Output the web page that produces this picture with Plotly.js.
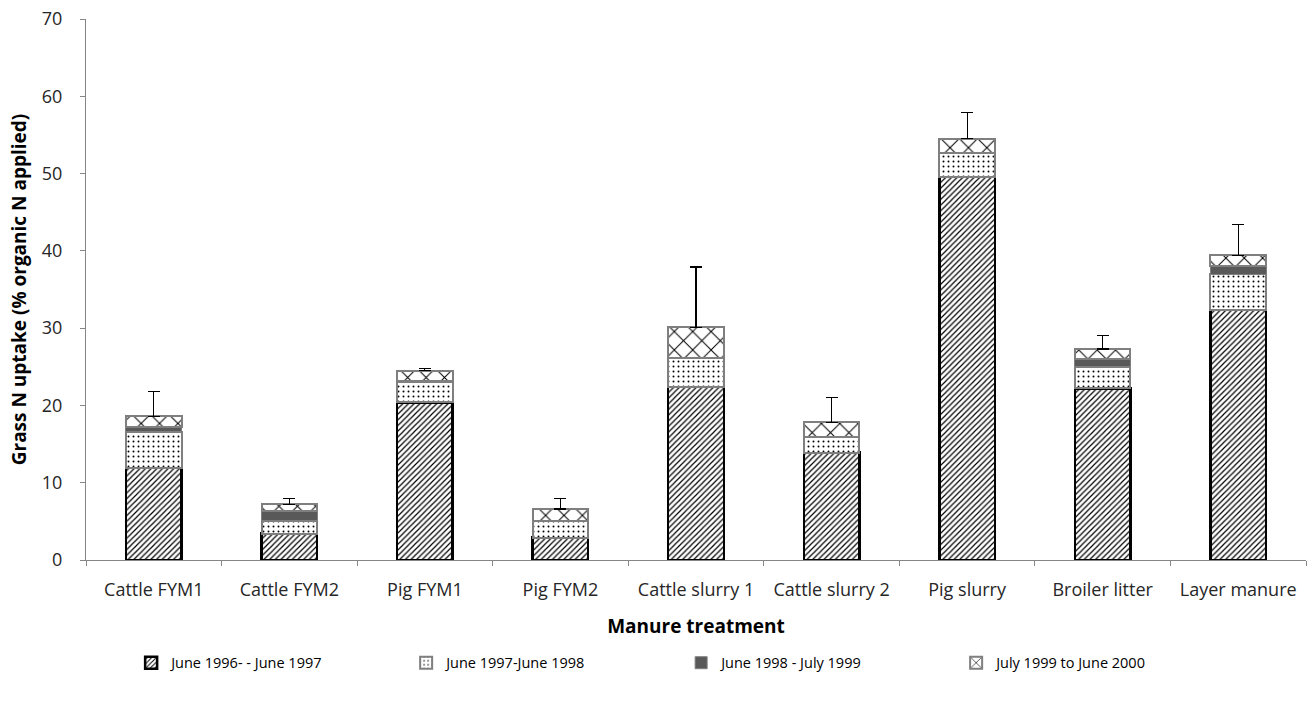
<!DOCTYPE html>
<html><head><meta charset="utf-8">
<script src="https://cdn.plot.ly/plotly-3.0.1.min.js"></script>
<style>body{margin:0;background:#fff}#c{width:1312px;height:709px}</style>
</head><body><div id="c"></div>
<script>
const categories = ["Cattle FYM1","Cattle FYM2","Pig FYM1","Pig FYM2","Cattle slurry 1","Cattle slurry 2","Pig slurry","Broiler litter","Layer manure"];
const seriesNames = ["June 1996- - June 1997","June 1997-June 1998","June 1998 - July 1999","July 1999 to June 2000"];
const y1996 = [11.9, 3.4, 20.4, 2.9, 22.4, 13.9, 49.6, 22.2, 32.4];
const y1997 = [4.7, 1.7, 2.6, 2.1, 3.7, 2.0, 3.0, 2.8, 4.6];
const y1998 = [0.6, 1.2, 0.1, 0.1, 0.0, 0.0, 0.0, 1.0, 1.1];
const y1999 = [1.4, 0.9, 1.4, 1.5, 4.0, 1.9, 1.9, 1.3, 1.3];
const errPlus = [3.2, 0.8, 0.3, 1.4, 7.8, 3.2, 3.4, 1.7, 4.0];

const font = "Open Sans, Liberation Sans, sans-serif";
const traces = [
  {y:y1996, name:seriesNames[0], marker:{color:"#ffffff", line:{color:"#000000", width:2.5}, pattern:{shape:"/", fgcolor:"#000000", bgcolor:"#ffffff", size:4, solidity:0.3}}},
  {y:y1997, name:seriesNames[1], marker:{color:"#ffffff", line:{color:"#7f7f7f", width:2}, pattern:{shape:".", fgcolor:"#000000", bgcolor:"#ffffff", size:5, solidity:0.12}}},
  {y:y1998, name:seriesNames[2], marker:{color:"#595959", line:{color:"#7f7f7f", width:1}}},
  {y:y1999, name:seriesNames[3], marker:{color:"#ffffff", line:{color:"#7f7f7f", width:2}, pattern:{shape:"x", fgcolor:"#000000", bgcolor:"#ffffff", size:13, solidity:0.15}},
   error_y:{type:"data", symmetric:false, array:errPlus, arrayminus:errPlus.map(()=>0), color:"#000000", thickness:1.2, width:6}}
].map(t => Object.assign({type:"bar", x:categories}, t));

const layout = {
  width:1312, height:709,
  barmode:"stack", bargap:0.59,
  margin:{l:86, r:6, t:19, b:149},
  paper_bgcolor:"#fff", plot_bgcolor:"#fff",
  font:{family:font, size:15, color:"#000"},
  xaxis:{showline:true, linecolor:"#868686", linewidth:1, ticks:"outside", tickson:"boundaries", ticklen:5, tickcolor:"#868686",
         ticklabelstandoff:13, tickfont:{size:18, color:"#262626"},
         title:{text:"<b>Manure treatment</b>", font:{size:19}, standoff:20}},
  yaxis:{range:[0,70], dtick:10, showline:true, linecolor:"#868686", linewidth:1, ticks:"outside", ticklen:5, tickcolor:"#868686",
         showgrid:false, zeroline:false, ticklabelstandoff:14, tickfont:{size:18, color:"#262626"},
         title:{text:"<b>Grass N uptake (% organic N applied)</b>", font:{size:19}, standoff:10}},
  showlegend:true,
  legend:{orientation:"h", x:0.037, xanchor:"left", y:-0.19, yanchor:"middle", font:{size:14.5}, traceorder:"normal",
          entrywidth:230, entrywidthmode:"pixels", itemwidth:30}
};
Plotly.newPlot("c", traces, layout, {displayModeBar:false, staticPlot:true});
</script></body></html>
